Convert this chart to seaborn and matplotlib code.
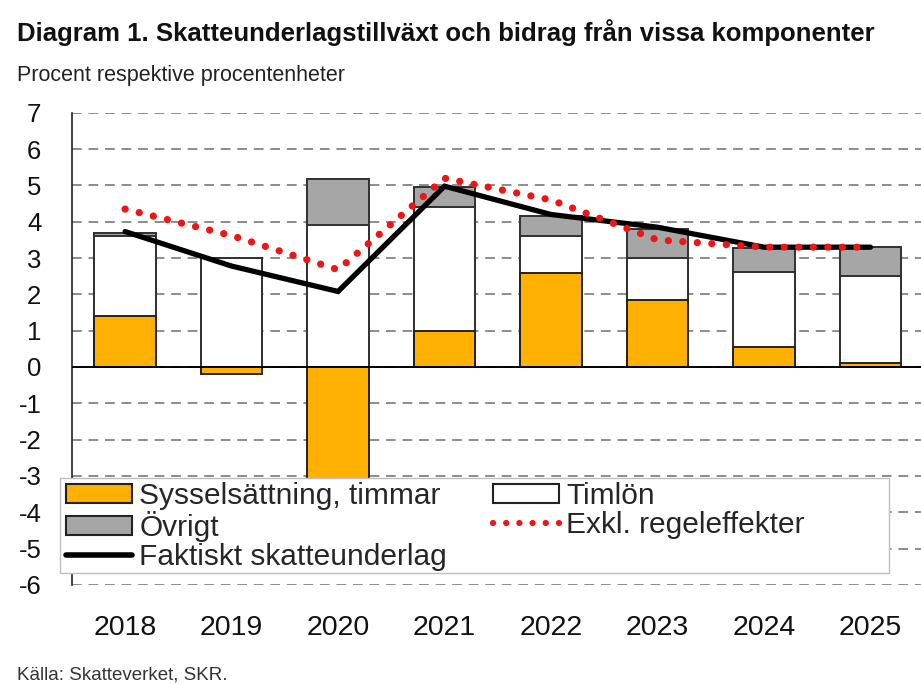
import numpy as np
import pandas as pd
import seaborn as sns
import matplotlib.pyplot as plt
from matplotlib.patches import Patch, Rectangle
from matplotlib.lines import Line2D

# values (procent / procentenheter)
years = ["2018", "2019", "2020", "2021", "2022", "2023", "2024", "2025"]
syssel = [1.4, -0.2, -3.1, 1.0, 2.6, 1.85, 0.55, 0.12]
timlon = [2.2, 3.0, 3.92, 3.4, 1.02, 1.16, 2.08, 2.4]
ovrigt = [0.1, 0.0, 1.25, 0.55, 0.54, 0.8, 0.65, 0.78]
faktiskt = [3.73, 2.78, 2.08, 4.98, 4.2, 3.85, 3.3, 3.3]
exkl = [4.35, 3.62, 2.68, 5.2, 4.6, 3.5, 3.3, 3.3]

sns.set_theme(style="white")
plt.rcParams["font.family"] = ["Liberation Sans", "DejaVu Sans"]
plt.rcParams["axes.unicode_minus"] = False

# stacked bars drawn as overlays: positive parts stack up from zero
pos_syssel = np.clip(syssel, 0, None)
df = pd.DataFrame({
    "year": years,
    "top_ovrigt": pos_syssel + np.array(timlon) + np.array(ovrigt),
    "top_timlon": pos_syssel + np.array(timlon),
    "syssel": syssel,
})

fig = plt.figure(figsize=(9.21, 6.84), dpi=100)
ax = fig.add_axes([0.078, 0.145, 0.925, 0.69])

bw = 0.58
edge = "#303030"
sns.barplot(data=df, x="year", y="top_ovrigt", color="#a6a6a6", width=bw,
            edgecolor=edge, linewidth=1.4, saturation=1, ax=ax, zorder=3)
sns.barplot(data=df, x="year", y="top_timlon", color="white", width=bw,
            edgecolor=edge, linewidth=1.4, saturation=1, ax=ax, zorder=3)
sns.barplot(data=df, x="year", y="syssel", color="#ffb000", width=bw,
            edgecolor="#222222", linewidth=1.4, saturation=1, ax=ax, zorder=3)

xpos = np.arange(len(years))
sns.lineplot(x=xpos, y=faktiskt, color="black", linewidth=3.8, ax=ax,
             zorder=5, solid_joinstyle="miter")
sns.lineplot(x=xpos, y=exkl, color="#f01414", linewidth=5.2, ax=ax, zorder=6,
             linestyle=(0, (0.01, 2.0)), dash_capstyle="round")

ax.set_xlim(-0.5, 7.5)
ax.set_ylim(-6, 7)
ax.set_yticks(range(-6, 8))
ax.set_xlabel("")
ax.set_ylabel("")
ax.yaxis.grid(True, color="#8c8c8c", linestyle=(0, (5, 3.5)), linewidth=1.4, zorder=0)
ax.axhline(0, color="black", linewidth=1.4, zorder=4)
for s in ["top", "right", "bottom"]:
    ax.spines[s].set_visible(False)
ax.spines["left"].set_color("#222222")
ax.spines["left"].set_linewidth(1.2)
ax.tick_params(axis="y", length=0, pad=22, labelsize=18.5, labelcolor="#111111")
ax.tick_params(axis="x", length=0, pad=22, labelsize=20.5, labelcolor="#111111")

handles = [
    Patch(facecolor="#ffb000", edgecolor="#222222", linewidth=1.5, label="Sysselsättning, timmar"),
    Patch(facecolor="#a6a6a6", edgecolor="#222222", linewidth=1.5, label="Övrigt"),
    Line2D([], [], color="black", linewidth=4, label="Faktiskt skatteunderlag"),
    Patch(facecolor="white", edgecolor="#222222", linewidth=1.5, label="Timlön"),
    Line2D([], [], color="#f01414", linewidth=4.5, linestyle=(0, (0.01, 2.1)),
           dash_capstyle="round", label="Exkl. regeleffekter"),
]
# legend frame drawn separately so it can be wider than its content
fig.add_artist(Rectangle((60 / 921, 1 - 573 / 684), (889 - 60) / 921, 95 / 684,
                         transform=fig.transFigure, facecolor="white",
                         edgecolor="#bfbfbf", linewidth=1.0, zorder=8))
leg = fig.legend(handles=handles, ncol=2, loc="upper left",
                 bbox_to_anchor=(60 / 921, 1 - 476 / 684), fontsize=21.5,
                 frameon=False, handlelength=2.2, handleheight=0.6,
                 handletextpad=0.25, columnspacing=1.55, labelspacing=0.04,
                 borderpad=0.2, borderaxespad=0)
leg.set_zorder(10)

fig.text(17 / 921, 1 - 33 / 684, "Diagram 1. Skatteunderlagstillväxt och bidrag från vissa komponenter",
         fontsize=18.5, fontweight="bold", va="center", ha="left", color="#111111")
fig.text(17 / 921, 1 - 76 / 684, "Procent respektive procentenheter",
         fontsize=15.5, va="center", ha="left", color="#222222")
fig.text(17 / 921, 1 - 675 / 684, "Källa: Skatteverket, SKR.",
         fontsize=13.5, va="center", ha="left", color="#333333")

fig.savefig("out.png", dpi=100)
